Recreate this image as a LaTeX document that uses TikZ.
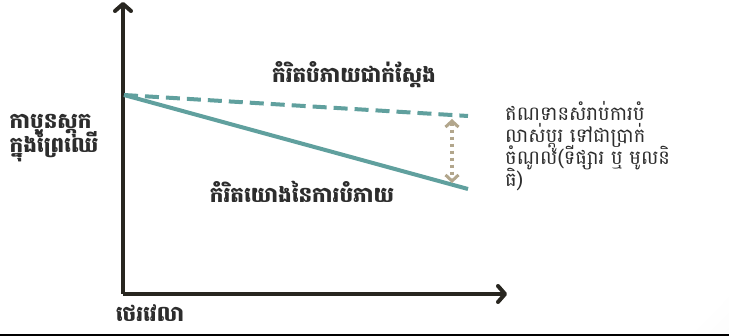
\documentclass[tikz,border=0pt]{standalone}
\usepackage{fontspec}
\usetikzlibrary{arrows.meta}
\newfontfamily\khm[Script=Khmer]{Battambang}
\definecolor{axiscol}{RGB}{40,38,32}
\definecolor{tealline}{RGB}{96,160,158}
\definecolor{tanline}{RGB}{178,166,140}
\definecolor{txtcol}{RGB}{45,45,45}
\definecolor{bggray}{RGB}{210,210,210}
\pgfdeclareradialshading{bgshade}{\pgfpoint{0bp}{0bp}}{color(0bp)=(white); color(24bp)=(white); color(50bp)=(bggray)}
\tikzset{
  axis/.style={draw=axiscol, line width=4pt, -{Straight Barb[length=7pt,width=16pt,line width=4pt,round]}},
  curve/.style={draw=tealline, line width=4pt},
  gap/.style={draw=tanline, line width=3.5pt, dash pattern=on 3.5pt off 3.5pt, {Straight Barb[length=6pt,width=13pt,line width=3pt]}-{Straight Barb[length=6pt,width=13pt,line width=3pt]}},
  heading/.style={font=\khm\bfseries\fontsize{21.5}{24}\selectfont, text=txtcol, inner sep=0pt},
  note/.style={font=\khm\fontsize{19.5}{22}\selectfont, text=txtcol, align=left, inner sep=0pt, anchor=north west},
}
\lineskiplimit=-100pt
\begin{document}
\begin{tikzpicture}[x=1pt,y=-1pt]
\useasboundingbox (0,0) rectangle (729,336);
\fill[white] (0,0) rectangle (729,336);
\shade[shading=bgshade] (-220,-280) rectangle (820,480);
\fill[black] (0,334) rectangle (729,336);
% axes
\coordinate (o) at (123,294);
\coordinate (ytop) at (123,2);
\coordinate (xend) at (507,294);
\draw[axis] (o) -- (ytop);
\draw[axis] (o) -- (xend);
% curves
\coordinate (start) at (124,95);
\coordinate (actualend) at (468,116);
\coordinate (refend) at (468,189);
\draw[curve, dash pattern=on 14pt off 7pt] (start) -- (actualend);
\draw[curve] (start) -- (refend);
\coordinate (gtop) at (452,119);
\coordinate (gbot) at (452,183);
\draw[gap] (gtop) -- (gbot);
% labels
\node[heading] (actual) at (354,75) {កំរិតបំភាយជាក់ស្តែង};
\node[heading] (ref) at (302,192) {កំរិតយោងនៃការបំភាយ};
\node[heading, align=left] (ylab) at (54,138) {កាបូនស្តុក\\ក្នុងព្រៃឈើ};
\node[heading] (xlab) at (150,313) {ថេរវេលា};
\node[note] (credit) at (505,101) {ឥណទានសំរាប់ការបំ\\លាស់ប្តូរ ទៅជាប្រាក់\\ចំណូល(ទីផ្សារ ឬ មូលនិ\\ធិ)};
\end{tikzpicture}
\end{document}
